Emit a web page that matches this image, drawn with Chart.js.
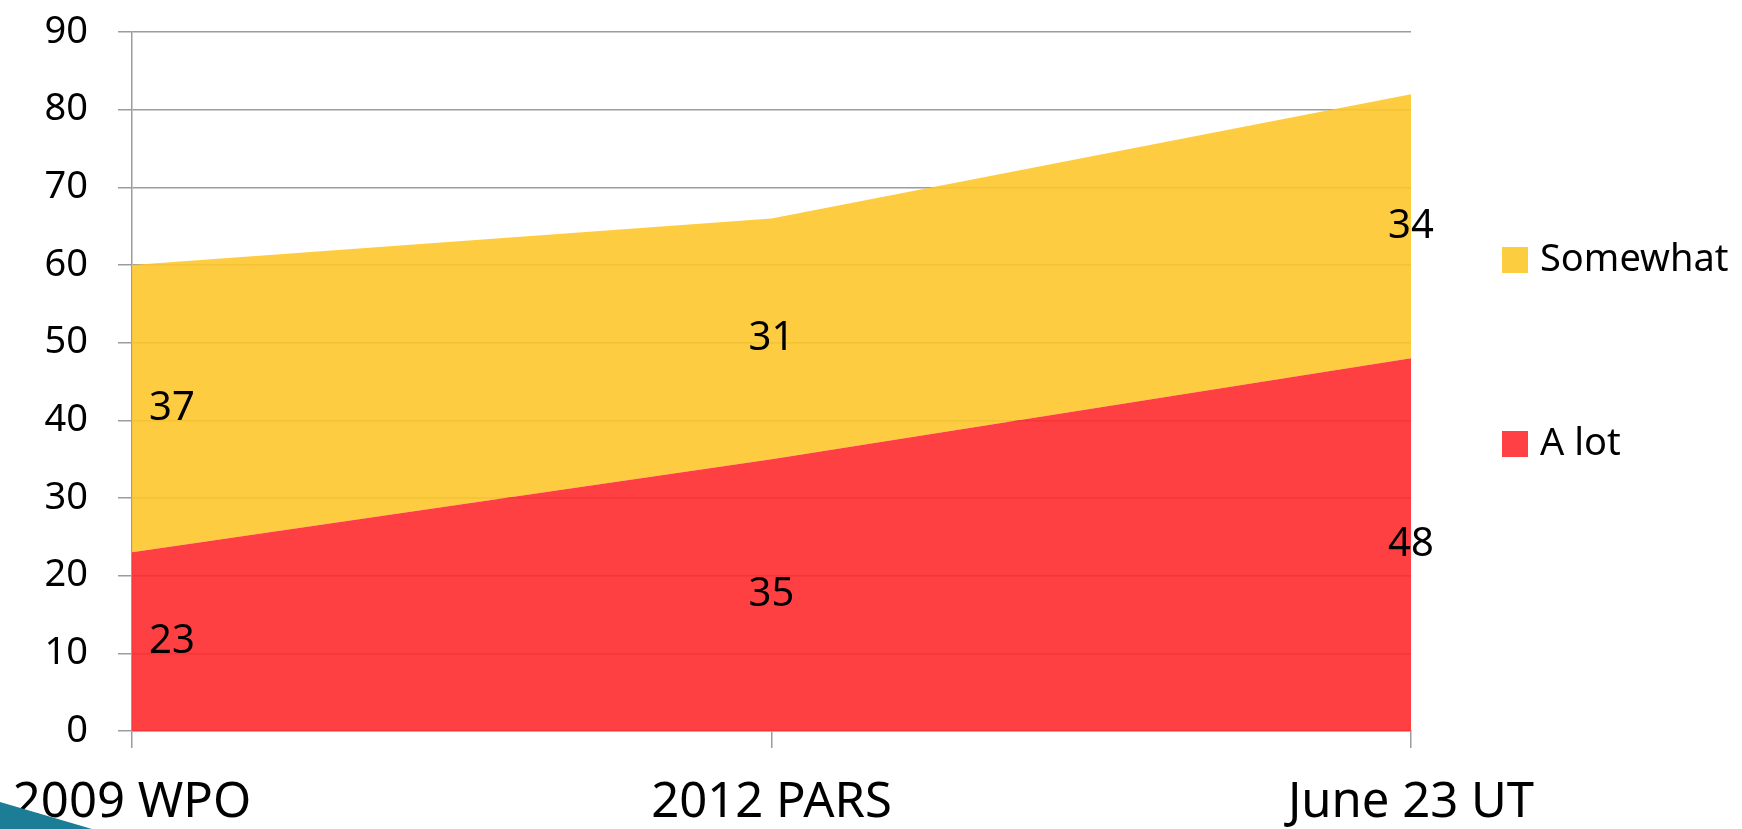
<!DOCTYPE html>
<html>
<head>
<meta charset="utf-8">
<script src="https://cdn.jsdelivr.net/npm/chart.js@4/dist/chart.umd.min.js"></script>
<style>
  html, body { margin: 0; padding: 0; background: #fff; overflow: hidden; }
  #wrap { position: relative; width: 1742px; height: 829px; }
  #corner { position: absolute; left: 0; bottom: 0; width: 92px; height: 27px;
            background: #1b7d96; clip-path: polygon(0 0, 100% 100%, 0 100%); }
</style>
</head>
<body>
<div id="wrap">
  <canvas id="areaChart" width="1742" height="829"></canvas>
  <div id="corner"></div>
</div>
<script>
// data
const categories = ['2009 WPO', '2012 PARS', 'June 23 UT'];
const aLot = [23, 35, 48];
const somewhat = [37, 31, 34];
const yTicks = { min: 0, max: 90, step: 10 };

const FONT = '"Noto Sans", "Open Sans", sans-serif';
const gridGray = '#9c9c9c';

// value labels, centred in each band (first column pushed right of the axis)
const valueLabels = {
  id: 'valueLabels',
  afterDatasetsDraw(chart) {
    const ctx = chart.ctx;
    const yScale = chart.scales.y;
    ctx.save();
    ctx.font = '40px ' + FONT;
    ctx.fillStyle = '#000';
    ctx.textBaseline = 'middle';
    chart.data.datasets.forEach((ds, di) => {
      const meta = chart.getDatasetMeta(di);
      meta.data.forEach((pt, i) => {
        let base = 0;
        for (let k = 0; k < di; k++) base += chart.data.datasets[k].data[i];
        const y = yScale.getPixelForValue(base + ds.data[i] / 2);
        let x = pt.x;
        if (i === 0) {
          ctx.textAlign = 'left';
          x += 17;
        } else {
          ctx.textAlign = 'center';
        }
        ctx.fillText(String(ds.data[i]), x, y);
      });
    });
    ctx.restore();
  }
};

// legend on the right, Somewhat on top
const sideLegend = {
  id: 'sideLegend',
  afterDraw(chart) {
    const ctx = chart.ctx;
    const rows = [
      { ds: chart.data.datasets[1], top: 247 },
      { ds: chart.data.datasets[0], top: 431 }
    ];
    ctx.save();
    ctx.font = '38px ' + FONT;
    ctx.textAlign = 'left';
    ctx.textBaseline = 'middle';
    rows.forEach(r => {
      ctx.fillStyle = r.ds.legendColor;
      ctx.fillRect(1502, r.top, 26, 26);
      ctx.fillStyle = '#000';
      ctx.fillText(r.ds.label, 1540, r.top + 13);
    });
    ctx.restore();
  }
};

new Chart(document.getElementById('areaChart'), {
  type: 'line',
  data: {
    labels: categories,
    datasets: [
      {
        label: 'A lot',
        data: aLot,
        backgroundColor: 'rgba(255, 43, 47, 0.9)',
        legendColor: '#ff4044',
        borderWidth: 0,
        pointRadius: 0,
        fill: 'origin'
      },
      {
        label: 'Somewhat',
        data: somewhat,
        backgroundColor: 'rgba(253, 199, 43, 0.9)',
        legendColor: '#fdcd40',
        borderWidth: 0,
        pointRadius: 0,
        fill: '-1'
      }
    ]
  },
  options: {
    responsive: false,
    animation: false,
    layout: { padding: { top: 32, right: 331, bottom: 0, left: 0 } },
    plugins: {
      legend: { display: false },
      tooltip: { enabled: false }
    },
    scales: {
      x: {
        offset: false,
        grid: { drawOnChartArea: false, drawTicks: true, tickLength: 17, color: gridGray, lineWidth: 1.5 },
        border: { display: true, color: gridGray, width: 1.5 },
        ticks: { color: '#000', font: { family: FONT, size: 49 }, padding: 26, maxRotation: 0, autoSkip: false },
        afterFit(s) {
          s.height = 98;
          s.paddingLeft = 0;
          s.paddingRight = 0;
        }
      },
      y: {
        stacked: true,
        min: yTicks.min,
        max: yTicks.max,
        grid: { color: gridGray, lineWidth: 1.5, drawTicks: true, tickLength: 14 },
        border: { display: true, color: gridGray, width: 1.5 },
        ticks: { stepSize: yTicks.step, color: '#000', font: { family: FONT, size: 38 }, padding: 30 },
        afterFit(s) {
          s.width = 132;
          s.paddingTop = 0;
          s.paddingBottom = 0;
        }
      }
    }
  },
  plugins: [valueLabels, sideLegend]
});
</script>
</body>
</html>
